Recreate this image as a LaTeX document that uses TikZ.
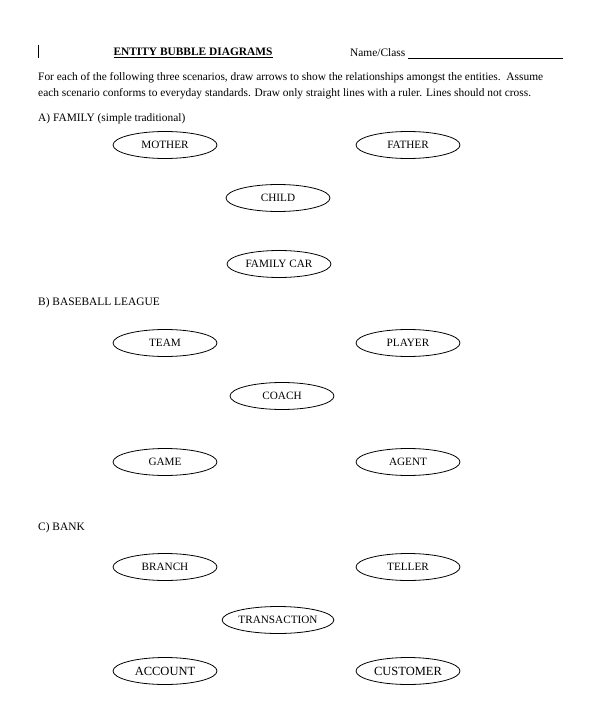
\documentclass[tikz,border=0pt]{standalone}
\usepackage{fontspec}
\setmainfont{Liberation Serif}
\usetikzlibrary{shapes.geometric}

\tikzset{
  bubble/.style={draw, ellipse, line width=0.8pt, minimum width=104pt, minimum height=27pt, inner sep=0pt, font=\fontsize{11.2}{13}\selectfont},
  sheettext/.style={anchor=west, inner sep=0pt, font=\fontsize{11.4}{13}\selectfont}
}

\begin{document}
\begin{tikzpicture}[x=1pt, y=-1pt]
    \useasboundingbox (0,0) rectangle (605,727);
    % header
    \draw[line width=1pt] (38,45) -- (38,58);
    \node[anchor=center, font=\fontsize{11.4}{13}\selectfont\bfseries] (title) at (193,53) {\underline{ENTITY BUBBLE DIAGRAMS}};
    \node[sheettext] (name) at (350,53) {Name/Class};
    \coordinate (lineend) at (563,58);
    \draw[line width=0.8pt] (name.east |- lineend) ++(3,0) -- (lineend);
    \node[sheettext] (intro1) at (38,78) {For each of the following three scenarios, draw arrows to show the relationships amongst the entities.\ \ Assume};
    \node[sheettext] (intro2) at (38,94) {each scenario conforms to everyday standards. Draw only straight lines with a ruler. Lines should not cross.};
    % scenario titles
    \node[sheettext] (fam) at (38,119) {A) FAMILY (simple traditional)};
    \node[sheettext] (base) at (38,303) {B) BASEBALL LEAGUE};
    \node[sheettext] (bank) at (38,528) {C) BANK};
    % bubbles
    \foreach \nm/\x/\y/\lbl in {mother/165/145/MOTHER, father/408/145/FATHER, child/278/198/CHILD, car/279/264/FAMILY CAR,
      team/165/343/TEAM, player/408/343/PLAYER, coach/282/396/COACH, game/165/462/GAME, agent/408/462/AGENT,
      branch/165/567/BRANCH, teller/408/567/TELLER, trans/278/620/TRANSACTION}
      \node[bubble] (\nm) at (\x,\y) {\lbl};
    \foreach \nm/\x/\y/\lbl in {account/165/671/ACCOUNT, customer/408/671/CUSTOMER}
      \node[bubble, font=\fontsize{12.5}{14}\selectfont] (\nm) at (\x,\y) {\lbl};
  \end{tikzpicture}
\end{document}
